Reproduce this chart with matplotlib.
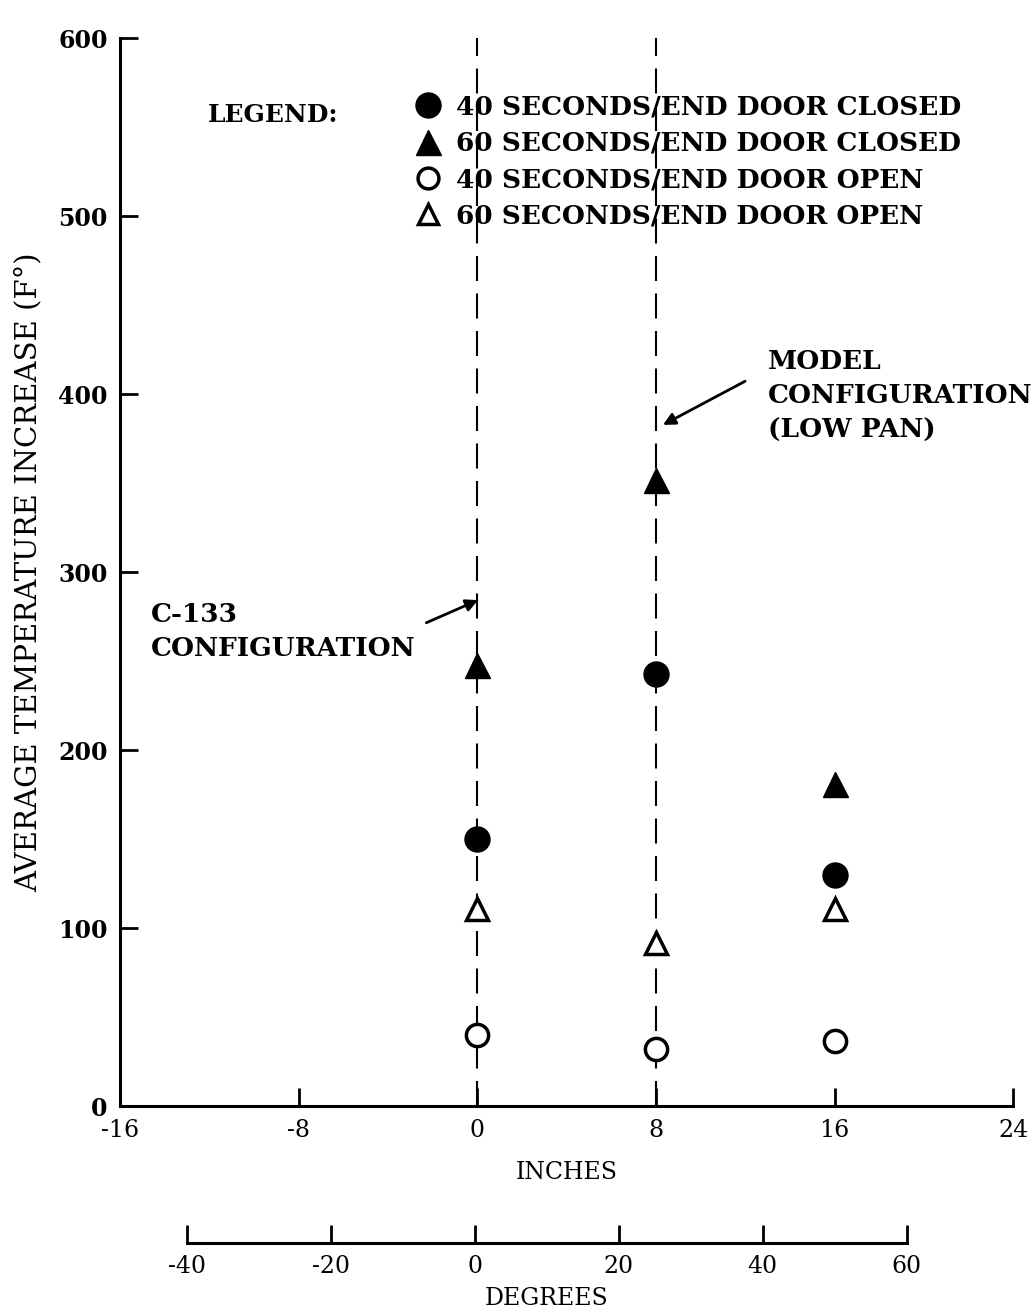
import numpy as np
import matplotlib
matplotlib.use("Agg")
import matplotlib.pyplot as plt
from matplotlib.lines import Line2D

plt.rcParams['font.family'] = ['DejaVu Serif']
plt.rcParams['axes.unicode_minus'] = False

# data
positions = [0, 8, 16]
closed_40 = [150, 243, 130]
closed_60 = [248, 352, 181]
open_40 = [40, 32, 37]
open_60 = [111, 92, 111]
config_lines = [0, 8]
inch_ticks = [-16, -8, 0, 8, 16, 24]
degree_ticks = [-40, -20, 0, 20, 40, 60]
temp_ticks = [0, 100, 200, 300, 400, 500, 600]
labels = ['40 SECONDS/END DOOR CLOSED', '60 SECONDS/END DOOR CLOSED',
          '40 SECONDS/END DOOR OPEN', '60 SECONDS/END DOOR OPEN']

fig = plt.figure(figsize=(10.35, 13.11), dpi=100)
ax = fig.add_axes([0.116, 0.156, 0.863, 0.815])

for xc in config_lines:
    ax.plot([xc, xc], [0, 600], color='black', lw=1.5, dashes=(12, 6), zorder=1)

ms = 18
ax.plot(positions, closed_40, 'o', color='black', ms=ms, ls='none', zorder=3)
ax.plot(positions, closed_60, '^', color='black', ms=ms, ls='none', zorder=3)
ax.plot(positions, open_40, 'o', mfc='white', mec='black', mew=2.5, ms=ms - 2, ls='none', zorder=3)
ax.plot(positions, open_60, '^', mfc='white', mec='black', mew=2.5, ms=ms - 2, ls='none', zorder=3)

ax.set_xlim(-16, 24)
ax.set_ylim(0, 600)
ax.set_xticks(inch_ticks)
ax.set_yticks(temp_ticks)
for s in ['top', 'right']:
    ax.spines[s].set_visible(False)
for s in ['left', 'bottom']:
    ax.spines[s].set_linewidth(2.2)
ax.tick_params(direction='in', length=13, width=2, labelsize=17, pad=9)
for lab in ax.get_yticklabels():
    lab.set_fontweight('bold')
ax.set_xlabel('INCHES', fontsize=17, va='center')
ax.xaxis.set_label_coords(0.5, -0.062)
ax.set_ylabel('AVERAGE TEMPERATURE INCREASE (F°)', fontsize=21)
ax.yaxis.set_label_coords(-0.087, 0.5)

# legend
handles = [
    Line2D([], [], marker='o', color='black', ls='none', ms=ms),
    Line2D([], [], marker='^', color='black', ls='none', ms=ms),
    Line2D([], [], marker='o', mfc='white', mec='black', mew=2.5, ls='none', ms=ms - 3),
    Line2D([], [], marker='^', mfc='white', mec='black', mew=2.5, ls='none', ms=ms - 3),
]
leg = ax.legend(handles, labels, loc='upper left', bbox_to_anchor=(0.318, 0.957),
                frameon=False, fontsize=19, handlelength=1.0, handletextpad=0.55,
                labelspacing=0.43, borderaxespad=0)
for t in leg.get_texts():
    t.set_fontweight('bold')
ax.text(0.098, 0.928, 'LEGEND:', transform=ax.transAxes, fontsize=18,
        fontweight='bold', va='center')

# annotations
ax.annotate('', xy=(8.2, 382), xytext=(12.1, 408),
            arrowprops=dict(arrowstyle='-|>', color='black', lw=2, mutation_scale=18))
ax.text(13.0, 399, 'MODEL\nCONFIGURATION\n(LOW PAN)', fontsize=19, fontweight='bold',
        va='center', ha='left', linespacing=1.45)
ax.annotate('', xy=(0.15, 285), xytext=(-2.4, 271),
            arrowprops=dict(arrowstyle='-|>', color='black', lw=2, mutation_scale=18))
ax.text(-14.6, 267, 'C-133\nCONFIGURATION', fontsize=19, fontweight='bold',
        va='center', ha='left', linespacing=1.45)

# degrees scale
ax2 = fig.add_axes([0.181, 0.052, 0.695, 0.001])
ax2.set_xlim(-40, 60)
ax2.set_xticks(degree_ticks)
ax2.set_yticks([])
for s in ['top', 'right', 'left']:
    ax2.spines[s].set_visible(False)
ax2.spines['bottom'].set_linewidth(2.2)
ax2.tick_params(axis='x', direction='in', length=13, width=2, labelsize=17, pad=9)
ax2.set_xlabel('DEGREES', fontsize=17, labelpad=6)
ax2.patch.set_visible(False)

fig.savefig('out.png', dpi=100)
